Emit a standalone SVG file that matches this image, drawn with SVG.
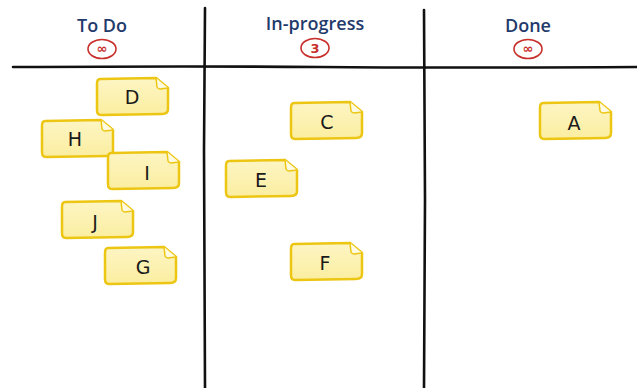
<svg xmlns="http://www.w3.org/2000/svg" width="637" height="388" viewBox="0 0 637 388">
<defs>
<linearGradient id="ng" x1="0" y1="0" x2="0" y2="1">
<stop offset="0" stop-color="#fdf5c4"/>
<stop offset="1" stop-color="#fbeea0"/>
</linearGradient>
<path id="note" d="M4,1 L60,0 L72,10 L72,31 Q72,36 66,36 L5,37 Q1,37 1,32 L1,6 Q1,1 4,1 Z"/>
<path id="fold" d="M60,0 L61,9 Q62,11 64,11 L72,10"/>
</defs>
<style>
.hd{font-family:"Open Sans","DejaVu Sans",sans-serif;font-size:18px;font-weight:600;fill:#1f3a6b;text-anchor:middle}
.lim{fill:none;stroke:#c8302c;stroke-width:1.6}
.limt{font-family:"DejaVu Sans",sans-serif;font-size:13px;fill:#c8302c;text-anchor:middle;font-weight:bold}
.n{fill:url(#ng);stroke:#ecc613;stroke-width:2.5;stroke-linejoin:round}
.f{fill:#fffbe3;stroke:#ecc613;stroke-width:1.5;stroke-linejoin:round}
.nt{font-family:"DejaVu Sans",sans-serif;font-size:19px;fill:#1a1a1a;text-anchor:middle}
.ln{stroke:#111;stroke-width:2.6;fill:none;stroke-linecap:round}
</style>
<rect width="637" height="388" fill="#ffffff"/>
<g id="board">
<path class="ln" d="M13,67 Q200,66 320,67 T637,67"/>
<path class="ln" d="M205,8 L204,150 L205,388"/>
<path class="ln" d="M424,10 L425,200 L424,388"/>
</g>
<g id="col-todo">
<text class="hd" x="102" y="32">To Do</text>
<ellipse class="lim" cx="102" cy="49" rx="14" ry="9.5"/>
<text class="limt" x="102" y="53">∞</text>
</g>
<g id="col-inprogress">
<text class="hd" x="315" y="30">In-progress</text>
<ellipse class="lim" cx="315" cy="48" rx="14" ry="9.5"/>
<text class="limt" x="315" y="53">3</text>
</g>
<g id="col-done">
<text class="hd" x="528" y="32">Done</text>
<ellipse class="lim" cx="528" cy="49" rx="14" ry="9.5"/>
<text class="limt" x="528" y="53">∞</text>
</g>
<g id="note-D" transform="translate(96,78)"><use href="#note" class="n"/><use href="#fold" class="f"/><text class="nt" x="36" y="26">D</text></g>
<g id="note-H" transform="translate(41,120)"><use href="#note" class="n"/><use href="#fold" class="f"/><text class="nt" x="34" y="26">H</text></g>
<g id="note-I" transform="translate(107,152)"><use href="#note" class="n"/><use href="#fold" class="f"/><text class="nt" x="40" y="28">I</text></g>
<g id="note-J" transform="translate(61,201)"><use href="#note" class="n"/><use href="#fold" class="f"/><text class="nt" x="34" y="28">J</text></g>
<g id="note-G" transform="translate(104,247)"><use href="#note" class="n"/><use href="#fold" class="f"/><text class="nt" x="39" y="27">G</text></g>
<g id="note-C" transform="translate(290,102)"><use href="#note" class="n"/><use href="#fold" class="f"/><text class="nt" x="37" y="27">C</text></g>
<g id="note-E" transform="translate(225,160)"><use href="#note" class="n"/><use href="#fold" class="f"/><text class="nt" x="36" y="27">E</text></g>
<g id="note-F" transform="translate(290,243)"><use href="#note" class="n"/><use href="#fold" class="f"/><text class="nt" x="35" y="27">F</text></g>
<g id="note-A" transform="translate(539,102)"><use href="#note" class="n"/><use href="#fold" class="f"/><text class="nt" x="35" y="28">A</text></g>
</svg>
